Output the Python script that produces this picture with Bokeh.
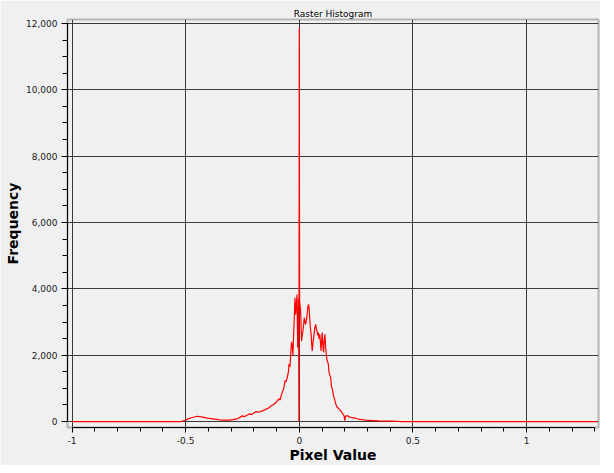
from bokeh.plotting import figure
from bokeh.models import FixedTicker, NumeralTickFormatter, Range1d
from bokeh.embed import file_html
from bokeh.resources import INLINE

# Histogram data (pixel value -> frequency)
pixel_value = [
    -1.00, -0.52, -0.50, -0.49, -0.47, -0.45, -0.43, -0.41, -0.39, -0.37,
    -0.35, -0.33, -0.31, -0.29, -0.27, -0.25, -0.24, -0.22, -0.21, -0.19,
    -0.18, -0.16, -0.15, -0.135, -0.125, -0.11, -0.10, -0.09, -0.085, -0.075,
    -0.068, -0.063, -0.058, -0.053, -0.048, -0.045, -0.041, -0.038, -0.034, -0.030,
    -0.028, -0.025, -0.022, -0.019, -0.016, -0.013, -0.010, -0.007, -0.003, -0.0015,
    0.000, 0.0015, 0.006, 0.010, 0.013, 0.016, 0.019, 0.022, 0.025, 0.028,
    0.031, 0.034, 0.037, 0.040, 0.043, 0.045, 0.048, 0.052, 0.055, 0.057,
    0.061, 0.065, 0.068, 0.072, 0.075, 0.078, 0.081, 0.084, 0.087, 0.090,
    0.093, 0.096, 0.099, 0.101, 0.104, 0.107, 0.110, 0.113, 0.116, 0.119,
    0.123, 0.128, 0.130, 0.133, 0.138, 0.142, 0.145, 0.150, 0.153, 0.158,
    0.163, 0.167, 0.172, 0.177, 0.182, 0.187, 0.192, 0.197, 0.200, 0.203,
    0.210, 0.220, 0.230, 0.248, 0.260, 0.275, 0.292, 0.320, 0.350, 0.380,
    0.410, 0.430, 0.450, 1.310,
]
frequency = [
    0, 0, 40, 80, 120, 160, 140, 110, 90, 70,
    50, 40, 45, 60, 90, 170, 150, 230, 210, 300,
    280, 330, 360, 410, 470, 530, 590, 680, 650, 880,
    1000, 1230, 1200, 1330, 1480, 1730, 1650, 2000, 2400, 2200,
    2000, 2600, 3130, 3730, 3230, 3530, 3830, 2230, 3700, 0,
    11850, 3630, 3330, 2430, 2600, 2730, 2900, 3130, 3000, 2930,
    3050, 3180, 3400, 3530, 3450, 3230, 2900, 2630, 2300, 2130,
    2400, 2630, 2800, 2930, 2800, 2730, 2600, 2680, 2500, 2630,
    2400, 2130, 2500, 2680, 2300, 2080, 2450, 2630, 2250, 2000,
    1830, 1730, 1530, 1430, 1330, 1030, 1000, 800, 730, 600,
    480, 430, 400, 350, 330, 280, 220, 180, 30, 150,
    180, 140, 120, 100, 70, 55, 40, 30, 20, 15,
    12, 8, 0, 0,
]

x_major = [-1, -0.5, 0, 0.5, 1]
x_minor = [-1.0, -0.9, -0.8, -0.7, -0.6, -0.5, -0.4, -0.3, -0.2, -0.1, 0.0,
           0.1, 0.2, 0.3, 0.4, 0.5, 0.6, 0.7, 0.8, 0.9, 1.0, 1.1, 1.2, 1.3]
y_major = [0, 2000, 4000, 6000, 8000, 10000, 12000]
y_minor = [v * 500 for v in range(0, 25)]

BG = "#f0f0f0"
FONT = "DejaVu Sans"

p = figure(
    width=600, height=465,
    x_range=Range1d(-1.0198, 1.3166),
    y_range=Range1d(-180, 12120),
    output_backend="svg", toolbar_location=None,
    title="Raster Histogram",
    min_border_left=67, min_border_right=2, min_border_top=19, min_border_bottom=36,
    background_fill_color=BG, border_fill_color=BG,
)

p.title.align = "center"
p.title.text_font = FONT
p.title.text_font_size = "9px"
p.title.text_font_style = "normal"
p.title.text_color = "#000000"
p.title.standoff = 2

p.outline_line_color = "#b4b4b4"
p.outline_line_width = 2

p.line(pixel_value, frequency, line_color="#ff0000", line_width=1.2)

# axes
xa = p.xaxis[0]
xa.ticker = FixedTicker(ticks=x_major, minor_ticks=x_minor)
xa.formatter = NumeralTickFormatter(format="0.[0]")
xa.bounds = (-1, 1.3)
xa.axis_label = "Pixel Value"
xa.major_tick_out = 5
xa.major_tick_in = 0
xa.minor_tick_out = 4
xa.minor_tick_in = 0
xa.major_label_standoff = 4
xa.axis_label_standoff = 0

ya = p.yaxis[0]
ya.ticker = FixedTicker(ticks=y_major, minor_ticks=y_minor)
ya.formatter = NumeralTickFormatter(format="0,0")
ya.bounds = (0, 12000)
ya.axis_label = "Frequency"
ya.major_tick_out = 6
ya.major_tick_in = 0
ya.minor_tick_out = 5
ya.minor_tick_in = 0
ya.major_label_standoff = 4
ya.axis_label_standoff = 2

for ax in (xa, ya):
    ax.axis_line_color = "#000000"
    ax.major_tick_line_color = "#000000"
    ax.minor_tick_line_color = "#000000"
    ax.major_label_text_font = FONT
    ax.major_label_text_font_size = "9px"
    ax.major_label_text_color = "#1a1a1a"
    ax.axis_label_text_font = FONT
    ax.axis_label_text_font_size = "14px"
    ax.axis_label_text_font_style = "bold"
    ax.axis_label_text_color = "#000000"

p.xgrid.grid_line_color = "#3a3a3a"
p.ygrid.grid_line_color = "#3a3a3a"
p.xgrid.grid_line_width = 1
p.ygrid.grid_line_width = 1

open("out.html", "w").write(file_html(p, INLINE))
